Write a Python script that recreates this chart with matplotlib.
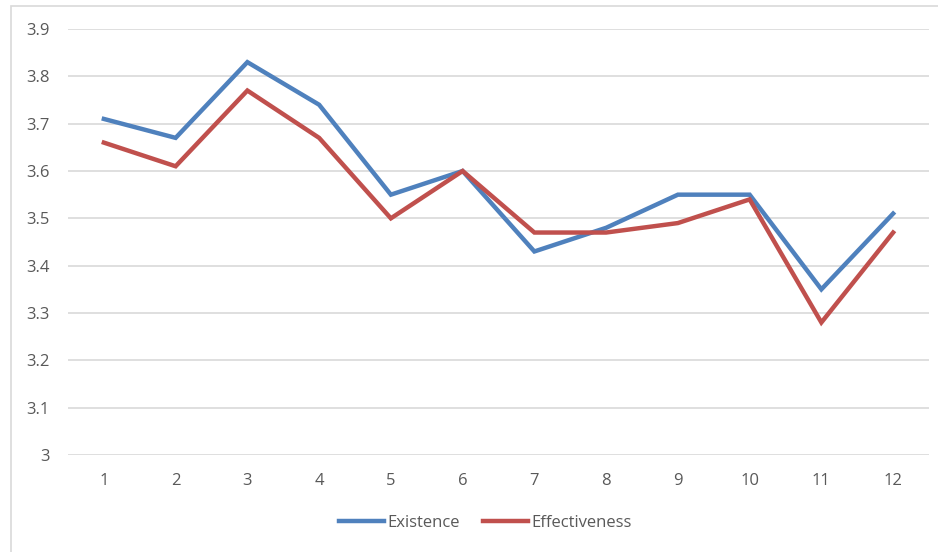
import matplotlib
matplotlib.use("Agg")
import matplotlib.pyplot as plt
from matplotlib.patches import Rectangle

# Data
categories = [1, 2, 3, 4, 5, 6, 7, 8, 9, 10, 11, 12]
existence = [3.71, 3.67, 3.83, 3.74, 3.55, 3.60, 3.43, 3.48, 3.55, 3.55, 3.35, 3.51]
effectiveness = [3.66, 3.61, 3.77, 3.67, 3.50, 3.60, 3.47, 3.47, 3.49, 3.54, 3.28, 3.47]
y_ticks = [3.0, 3.1, 3.2, 3.3, 3.4, 3.5, 3.6, 3.7, 3.8, 3.9]
y_labels = ["3", "3.1", "3.2", "3.3", "3.4", "3.5", "3.6", "3.7", "3.8", "3.9"]

plt.rcParams['font.family'] = ['Open Sans', 'DejaVu Sans']
text_color = "#595959"

W, H = 938, 552
fig = plt.figure(figsize=(W / 100, H / 100), dpi=100)

# light chart-area border
fig.patches.append(Rectangle((11 / W, -0.1), 1.2, (H - 6) / H + 0.1, transform=fig.transFigure,
                             fill=False, edgecolor="#d9d9d9", linewidth=1.2))

ax = fig.add_axes([68 / W, (H - 455) / H, (929 - 68) / W, (455 - 29) / H])
ax.plot(categories, existence, color="#4F81BD", linewidth=3.2, label="Existence",
        solid_joinstyle="miter")
ax.plot(categories, effectiveness, color="#C0504D", linewidth=3.2, label="Effectiveness",
        solid_joinstyle="miter")

ax.set_xlim(0.5, 12.5)
ax.set_ylim(3.0, 3.9)
ax.set_yticks(y_ticks)
ax.set_yticklabels(y_labels)
ax.set_xticks(categories)
ax.set_xticklabels([str(c) for c in categories])
ax.grid(axis="y", color="#d9d9d9", linewidth=1.2)
ax.set_axisbelow(True)
for s in ax.spines.values():
    s.set_visible(False)
ax.tick_params(length=0, labelsize=12, labelcolor=text_color)
ax.tick_params(axis="y", pad=13)
ax.tick_params(axis="x", pad=13)

fig.legend(loc="center", bbox_to_anchor=(485 / W, (H - 523) / H), ncol=2, frameon=False,
           fontsize=12, labelcolor=text_color, handlelength=2.7, handletextpad=0.2,
           columnspacing=1.4)

fig.savefig("out.png", dpi=100)
